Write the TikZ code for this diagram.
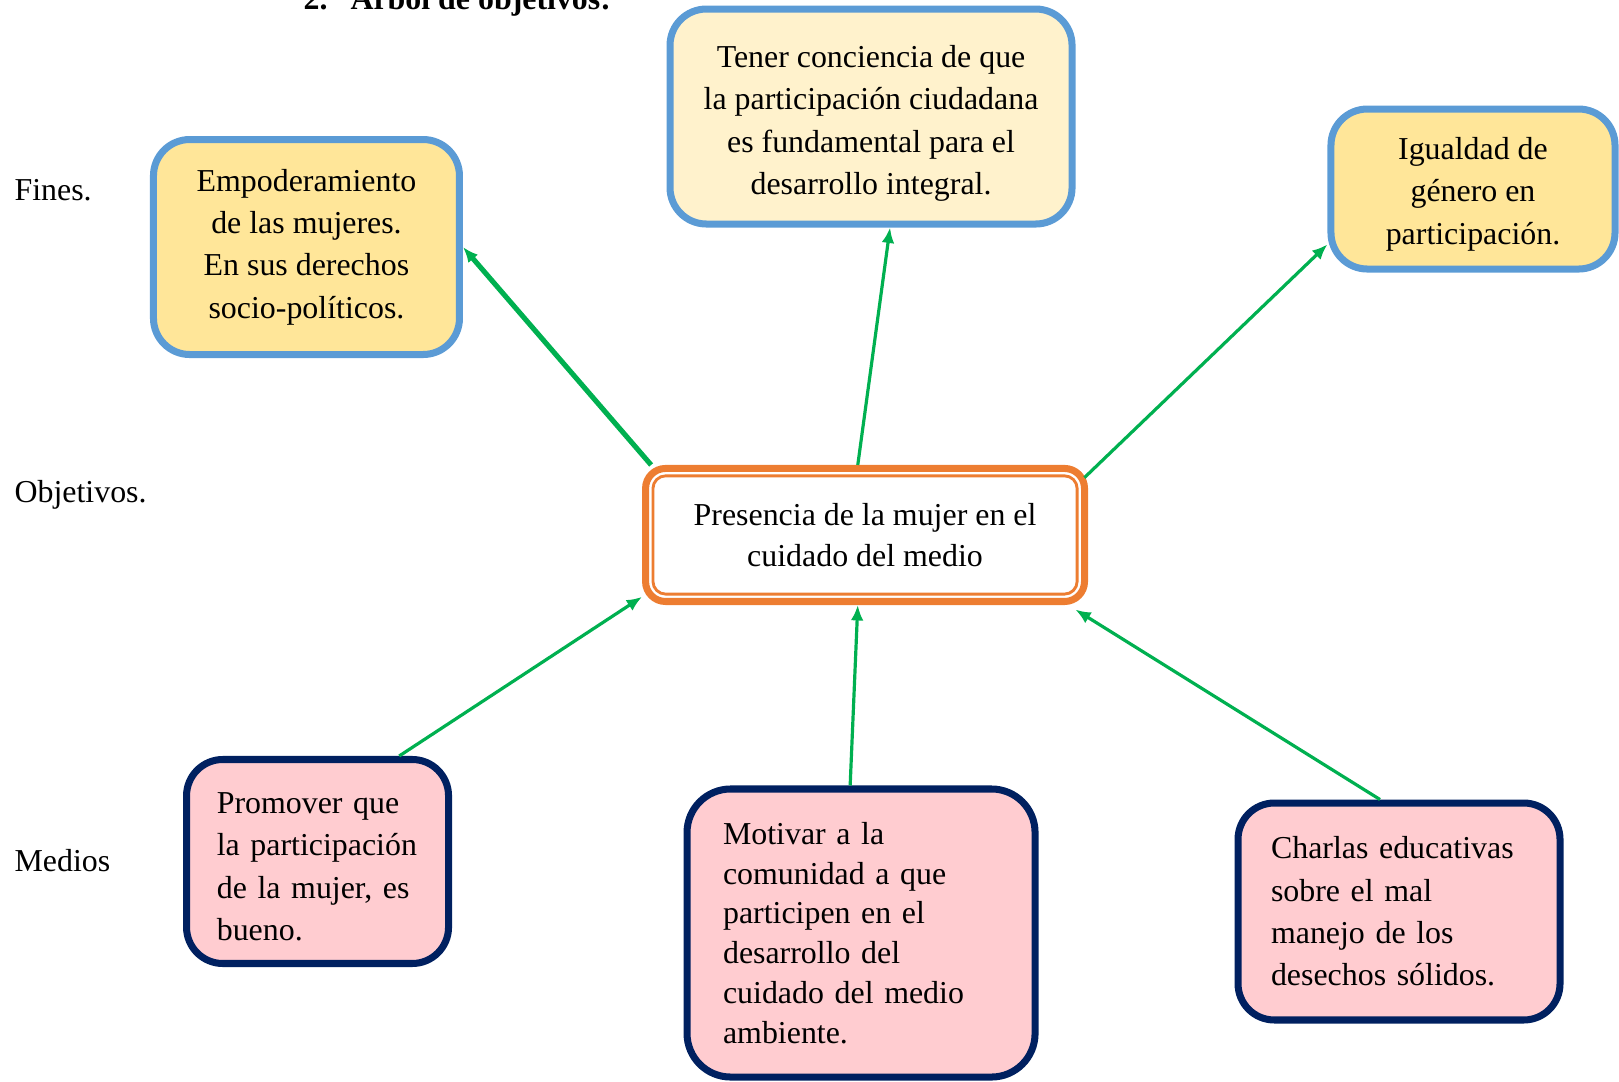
\documentclass[tikz,border=0pt]{standalone}
\usepackage{fontspec}
\setmainfont{Liberation Serif}
\usetikzlibrary{arrows.meta}
\definecolor{finborder}{HTML}{5B9BD5}
\definecolor{finfill}{HTML}{FFE699}
\definecolor{finlight}{HTML}{FFF2CC}
\definecolor{objorange}{HTML}{ED7D31}
\definecolor{medborder}{HTML}{002060}
\definecolor{medfill}{HTML}{FFCCD0}
\definecolor{arrowgreen}{HTML}{00B050}
\newcommand{\textdrop}[1]{\rule{0pt}{#1}}
\begin{document}
\begin{tikzpicture}[finbox/.style={draw=finborder, line width=2.2pt, fill=finfill, rounded corners=0.4cm, align=center, inner sep=2pt, font=\fontsize{10}{13.3}\selectfont},
  medbox/.style={draw=medborder, line width=2.2pt, fill=medfill, rounded corners=0.4cm, align=left, inner sep=0pt, font=\fontsize{10}{13.3}\selectfont},
  objbox/.style={draw=objorange, line width=2.2pt, fill=white, rounded corners=0.22cm, align=center, font=\fontsize{10}{13}\selectfont},
  rowlabel/.style={anchor=west, inner sep=0pt, font=\fontsize{10}{13}\selectfont},
  link/.style={draw=arrowgreen, line width=1pt, -{Latex[length=1.7mm, width=1.4mm]}}]
  \clip (0,0) rectangle (17.84,-11.912);
  \node[anchor=base west, inner sep=0pt, font=\bfseries] at (3.339,-0.105) (title) {2.\hspace{0.253cm}Árbol de objetivos:};
  \node[rowlabel] at (0.154,-2.094) (fines) {Fines.};
  \node[rowlabel] at (0.154,-5.45) (objetivos) {Objetivos.};
  \node[rowlabel] at (0.154,-9.483) (medios) {Medios};
  % Fines
  \node[finbox, minimum width=3.372cm, minimum height=2.369cm] at (3.377,-2.722) (fin1) {Empoderamiento\\de las mujeres.\\En sus derechos\\socio-políticos.};
  \node[finbox, fill=finlight, minimum width=4.43cm, minimum height=2.369cm] at (9.598,-1.284) (fin2) {\textdrop{11.3pt}Tener conciencia de que\\la participación ciudadana\\es fundamental para el\\desarrollo integral.};
  \node[finbox, minimum width=3.13cm, minimum height=1.763cm] at (16.231,-2.083) (fin3) {\textdrop{10.1pt}Igualdad de\\género en\\participación.};
  % Objetivo
  \node[objbox, minimum width=4.837cm, minimum height=1.466cm] at (9.532,-5.895) (obj) {Presencia de la mujer en el\\cuidado del medio};
  \draw[objorange, line width=0.9pt, rounded corners=0.14cm] ([shift={(0.12,-0.12)}]obj.north west) rectangle ([shift={(-0.12,0.12)}]obj.south east);
  % Medios
  \node[medbox, text width=2.22cm, minimum width=2.887cm, minimum height=2.248cm] at (3.499,-9.493) (med1) {\textdrop{9.9pt}Promover que\\la participación\\de la mujer, es\\bueno.};
  \node[medbox, text width=3.041cm, minimum width=3.835cm, minimum height=3.174cm, rounded corners=0.48cm, font=\fontsize{10}{12.45}\selectfont] at (9.488,-10.281) (med2) {Motivar a la\\comunidad a que\\participen en el\\desarrollo del\\cuidado del medio\\ambiente.};
  \node[medbox, text width=2.821cm, minimum width=3.548cm, minimum height=2.391cm] at (15.416,-10.044) (med3) {Charlas educativas\\sobre el mal\\manejo de los\\desechos sólidos.};
  % Lines
  \draw[link, line width=1.6pt] ([xshift=0.1cm]obj.north west) -- (fin1.east);
  \draw[link] ([xshift=-0.08cm]obj.north) -- ([xshift=0.21cm]fin2.south);
  \draw[link] ([xshift=-0.04cm, yshift=-0.14cm]obj.north east) -- ([yshift=-0.61cm]fin3.west);
  \draw[link] ([xshift=0.9cm]med1.north) -- ([yshift=0.09cm]obj.south west);
  \draw[link] ([xshift=-0.12cm]med2.north) -- ([xshift=-0.08cm]obj.south);
  \draw[link] ([xshift=-0.21cm]med3.north) -- ([xshift=-0.14cm, yshift=-0.05cm]obj.south east);
\end{tikzpicture}
\end{document}
